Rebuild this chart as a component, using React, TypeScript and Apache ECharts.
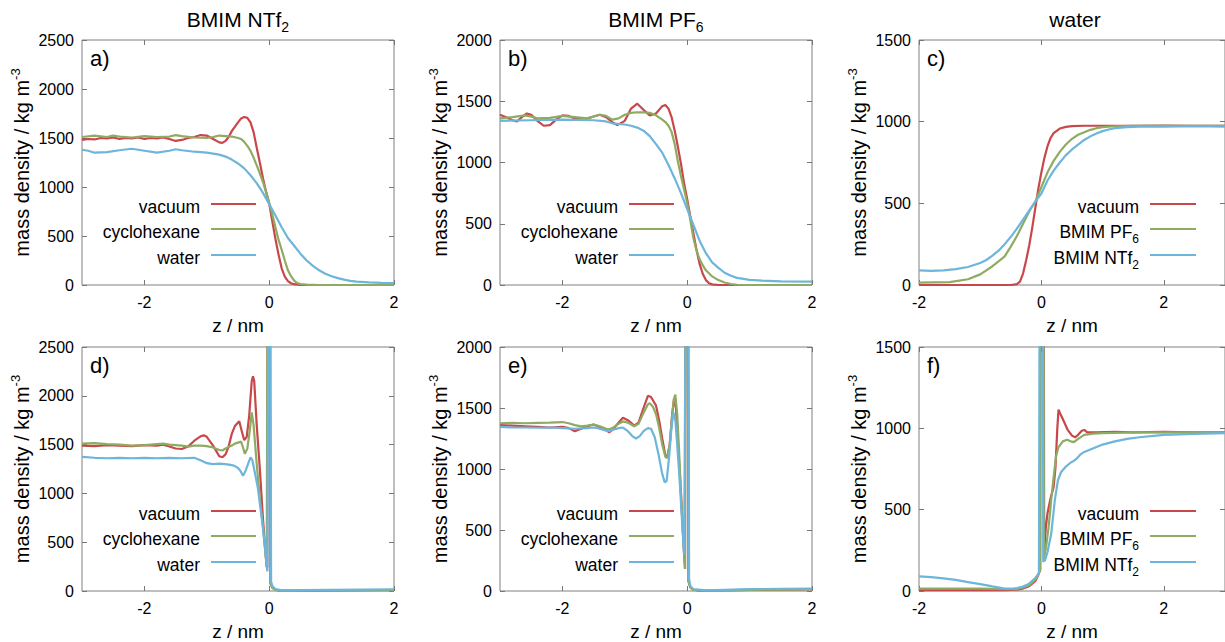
import { useEffect, useRef } from "react";
import * as echarts from "echarts";

const FONT = "Liberation Sans, Arial, Helvetica, sans-serif";

// ---------- labels ----------
const columnTitles = ["BMIM NTf2", "BMIM PF6", "water"];
const panelLabels = ["a)", "b)", "c)", "d)", "e)", "f)"];
const solventNames = ["vacuum", "cyclohexane", "water"];
const waterNames = ["vacuum", "BMIM PF6", "BMIM NTf2"];
const xTicksIL = [-2, 0, 2];
const xTicksW = [-2, 0, 2];
const colors = ["#c8474a", "#8fab62", "#6db5da"];

// ---------- data (z / nm, mass density / kg m^-3) ----------
const aVacuum = [[-3,1480],[-2.9,1490],[-2.8,1485],[-2.7,1500],[-2.6,1495],[-2.5,1505],[-2.4,1490],[-2.3,1500],[-2.2,1495],[-2.1,1505],[-2.0,1490],[-1.9,1500],[-1.8,1495],[-1.7,1505],[-1.6,1490],[-1.5,1470],[-1.4,1480],[-1.3,1500],[-1.2,1510],[-1.1,1530],[-1.0,1525],[-0.9,1490],[-0.8,1455],[-0.75,1450],[-0.7,1470],[-0.65,1510],[-0.6,1570],[-0.5,1660],[-0.45,1700],[-0.4,1715],[-0.35,1705],[-0.3,1660],[-0.25,1560],[-0.2,1400],[-0.15,1250],[-0.1,1090],[-0.05,950],[0,830],[0.05,650],[0.1,470],[0.15,310],[0.2,170],[0.25,85],[0.3,40],[0.35,18],[0.4,8],[0.5,2],[0.6,0],[1,0],[1.5,0],[2,0]];
const aCyclo = [[-3,1510],[-2.8,1525],[-2.6,1510],[-2.5,1525],[-2.4,1515],[-2.2,1505],[-2.0,1520],[-1.8,1510],[-1.6,1515],[-1.5,1530],[-1.4,1520],[-1.2,1505],[-1.0,1500],[-0.9,1510],[-0.8,1525],[-0.7,1520],[-0.6,1515],[-0.5,1500],[-0.45,1490],[-0.4,1460],[-0.35,1420],[-0.3,1370],[-0.25,1300],[-0.2,1220],[-0.15,1140],[-0.1,1050],[-0.05,950],[0,840],[0.05,720],[0.1,590],[0.15,460],[0.2,360],[0.25,250],[0.3,150],[0.35,90],[0.4,45],[0.45,20],[0.5,10],[0.6,3],[0.8,0],[2,0]];
const aWater = [[-3,1380],[-2.9,1370],[-2.8,1350],[-2.6,1355],[-2.4,1375],[-2.2,1390],[-2.0,1370],[-1.8,1350],[-1.6,1370],[-1.5,1385],[-1.4,1375],[-1.2,1360],[-1.0,1350],[-0.9,1340],[-0.8,1330],[-0.7,1310],[-0.6,1280],[-0.5,1240],[-0.4,1190],[-0.3,1120],[-0.2,1040],[-0.1,940],[0,825],[0.1,710],[0.2,590],[0.3,480],[0.4,400],[0.5,320],[0.6,250],[0.7,195],[0.8,150],[0.9,115],[1.0,90],[1.1,70],[1.2,55],[1.3,42],[1.4,35],[1.6,27],[1.8,22],[2.0,20]];

const bVacuum = [[-3,1390],[-2.9,1370],[-2.8,1345],[-2.73,1335],[-2.65,1370],[-2.57,1400],[-2.5,1390],[-2.4,1340],[-2.3,1300],[-2.2,1305],[-2.1,1350],[-2.0,1385],[-1.9,1380],[-1.8,1360],[-1.66,1350],[-1.5,1375],[-1.4,1390],[-1.3,1370],[-1.2,1330],[-1.12,1305],[-1.0,1340],[-0.9,1440],[-0.8,1480],[-0.7,1430],[-0.6,1385],[-0.5,1400],[-0.4,1460],[-0.35,1470],[-0.3,1440],[-0.25,1370],[-0.2,1260],[-0.15,1130],[-0.1,990],[-0.05,830],[0,700],[0.05,560],[0.1,420],[0.15,285],[0.2,170],[0.25,90],[0.3,40],[0.35,15],[0.4,5],[0.5,0],[2,0]];
const bCyclo = [[-3,1360],[-2.8,1370],[-2.6,1385],[-2.5,1375],[-2.4,1360],[-2.2,1365],[-2.0,1380],[-1.8,1370],[-1.6,1360],[-1.4,1390],[-1.3,1380],[-1.2,1350],[-1.1,1360],[-1.0,1390],[-0.9,1405],[-0.8,1410],[-0.7,1410],[-0.6,1405],[-0.5,1385],[-0.4,1350],[-0.35,1330],[-0.3,1300],[-0.25,1250],[-0.2,1150],[-0.15,1010],[-0.1,890],[-0.05,780],[0,670],[0.05,530],[0.1,380],[0.15,280],[0.2,210],[0.25,160],[0.3,120],[0.4,70],[0.5,40],[0.6,20],[0.7,8],[0.8,2],[1.0,0],[2,0]];
const bWater = [[-3,1340],[-2.5,1345],[-2.0,1350],[-1.5,1345],[-1.3,1335],[-1.2,1320],[-1.0,1310],[-0.9,1300],[-0.8,1285],[-0.7,1260],[-0.6,1215],[-0.5,1150],[-0.4,1080],[-0.3,980],[-0.2,870],[-0.1,750],[0,620],[0.1,490],[0.2,360],[0.3,260],[0.4,185],[0.5,140],[0.6,100],[0.7,75],[0.8,58],[1.0,42],[1.2,35],[1.5,30],[2.0,27]];

const cVacuum = [[-2,0],[-1,0],[-0.5,0],[-0.4,5],[-0.35,20],[-0.3,70],[-0.25,150],[-0.2,240],[-0.15,350],[-0.1,470],[-0.05,590],[0,690],[0.05,780],[0.1,850],[0.15,900],[0.2,930],[0.3,958],[0.4,968],[0.5,973],[0.7,975],[1,975],[1.5,975],[2,976],[2.5,975],[3,975]];
const cPF6 = [[-2,15],[-1.5,18],[-1.2,35],[-1.0,65],[-0.9,90],[-0.8,115],[-0.7,145],[-0.6,175],[-0.5,235],[-0.4,300],[-0.3,375],[-0.2,450],[-0.1,510],[0,600],[0.1,690],[0.2,760],[0.3,815],[0.4,860],[0.5,895],[0.6,920],[0.7,935],[0.8,950],[0.9,960],[1.0,966],[1.2,972],[1.5,975],[3,975]];
const cNTf2 = [[-2,90],[-1.8,87],[-1.6,90],[-1.4,97],[-1.2,110],[-1.0,135],[-0.9,153],[-0.8,180],[-0.7,210],[-0.6,250],[-0.5,295],[-0.4,345],[-0.3,400],[-0.2,455],[-0.1,510],[0,560],[0.1,640],[0.2,700],[0.3,750],[0.4,795],[0.5,830],[0.6,860],[0.7,888],[0.8,910],[0.9,928],[1.0,942],[1.1,952],[1.2,960],[1.4,967],[1.6,970],[2,970],[2.5,972],[3,970]];

const dVacuum = [[-3,1490],[-2.8,1485],[-2.6,1495],[-2.4,1490],[-2.2,1485],[-2.0,1495],[-1.8,1490],[-1.7,1500],[-1.6,1480],[-1.5,1460],[-1.4,1455],[-1.3,1480],[-1.2,1540],[-1.1,1585],[-1.05,1595],[-1.0,1580],[-0.9,1490],[-0.8,1380],[-0.75,1370],[-0.7,1400],[-0.65,1480],[-0.6,1610],[-0.55,1690],[-0.48,1740],[-0.44,1640],[-0.4,1545],[-0.36,1580],[-0.32,1800],[-0.28,2150],[-0.26,2200],[-0.24,2150],[-0.2,1700],[-0.15,1250],[-0.1,740],[-0.06,400],[-0.04,250],[-0.03,240],[-0.025,3500],[0.005,3500],[0.02,80],[0.05,40],[0.1,15],[0.15,5],[0.2,0],[0.5,2],[1,5],[1.5,8],[2,10]];
const dCyclo = [[-3,1510],[-2.8,1515],[-2.6,1505],[-2.4,1500],[-2.2,1490],[-2.0,1495],[-1.8,1505],[-1.7,1510],[-1.6,1500],[-1.4,1490],[-1.3,1480],[-1.2,1490],[-1.1,1490],[-1.0,1485],[-0.9,1470],[-0.8,1445],[-0.75,1440],[-0.7,1460],[-0.6,1490],[-0.55,1510],[-0.5,1520],[-0.45,1530],[-0.42,1470],[-0.39,1405],[-0.35,1460],[-0.31,1650],[-0.28,1830],[-0.25,1700],[-0.2,1300],[-0.15,950],[-0.1,650],[-0.06,380],[-0.04,250],[-0.025,3500],[0.005,3500],[0.02,70],[0.05,30],[0.1,10],[0.2,0],[1,5],[2,8]];
const dWater = [[-3,1375],[-2.8,1365],[-2.6,1360],[-2.4,1365],[-2.2,1360],[-2.0,1365],[-1.8,1360],[-1.6,1365],[-1.4,1360],[-1.2,1365],[-1.1,1340],[-1.0,1310],[-0.9,1300],[-0.8,1305],[-0.7,1300],[-0.6,1290],[-0.55,1280],[-0.5,1260],[-0.46,1230],[-0.42,1180],[-0.38,1230],[-0.34,1300],[-0.3,1370],[-0.27,1340],[-0.22,1180],[-0.18,1050],[-0.14,850],[-0.1,650],[-0.06,400],[-0.03,200],[-0.01,3500],[0.02,3500],[0.03,100],[0.05,50],[0.1,20],[0.2,8],[0.5,8],[1,12],[1.5,15],[2,18]];

const eVacuum = [[-3,1360],[-2.8,1355],[-2.6,1350],[-2.4,1345],[-2.2,1340],[-2.0,1345],[-1.9,1335],[-1.8,1310],[-1.7,1330],[-1.6,1350],[-1.5,1365],[-1.4,1345],[-1.3,1320],[-1.25,1300],[-1.2,1320],[-1.1,1380],[-1.03,1420],[-0.95,1400],[-0.85,1355],[-0.78,1380],[-0.7,1500],[-0.63,1600],[-0.58,1590],[-0.5,1520],[-0.45,1400],[-0.4,1250],[-0.35,1110],[-0.32,1100],[-0.28,1200],[-0.24,1450],[-0.21,1580],[-0.18,1500],[-0.14,1150],[-0.1,800],[-0.06,400],[-0.035,180],[-0.025,3500],[0.005,3500],[0.02,80],[0.05,30],[0.1,10],[0.2,3],[0.5,5],[1,10],[1.5,12],[2,15]];
const eCyclo = [[-3,1375],[-2.8,1378],[-2.6,1375],[-2.4,1378],[-2.2,1380],[-2.0,1385],[-1.9,1375],[-1.8,1360],[-1.7,1350],[-1.6,1355],[-1.5,1365],[-1.4,1350],[-1.3,1330],[-1.25,1325],[-1.2,1335],[-1.1,1370],[-1.03,1390],[-0.95,1380],[-0.85,1350],[-0.78,1370],[-0.7,1460],[-0.63,1530],[-0.6,1540],[-0.55,1510],[-0.5,1450],[-0.45,1340],[-0.4,1200],[-0.35,1100],[-0.32,1090],[-0.28,1200],[-0.24,1450],[-0.21,1580],[-0.19,1610],[-0.16,1450],[-0.13,1150],[-0.1,800],[-0.06,400],[-0.035,180],[-0.025,3500],[0.005,3500],[0.02,80],[0.05,30],[0.1,10],[0.2,3],[0.5,5],[1,10],[1.5,12],[2,15]];
const eWater = [[-3,1345],[-2.8,1340],[-2.6,1340],[-2.4,1338],[-2.2,1340],[-2.0,1335],[-1.8,1330],[-1.6,1335],[-1.5,1340],[-1.4,1330],[-1.3,1315],[-1.25,1310],[-1.2,1320],[-1.1,1335],[-1.03,1340],[-0.95,1310],[-0.88,1270],[-0.82,1250],[-0.76,1270],[-0.7,1310],[-0.63,1335],[-0.58,1330],[-0.52,1260],[-0.46,1120],[-0.4,960],[-0.36,890],[-0.33,900],[-0.29,1100],[-0.25,1350],[-0.22,1460],[-0.19,1400],[-0.16,1200],[-0.12,900],[-0.08,550],[-0.05,300],[-0.01,3500],[0.02,3500],[0.03,100],[0.05,40],[0.1,15],[0.3,5],[0.6,10],[1,15],[1.5,18],[2,20]];

const fVacuum = [[-2,5],[-1.5,5],[-1,5],[-0.6,5],[-0.4,8],[-0.3,15],[-0.2,30],[-0.1,60],[-0.05,100],[-0.02,130],[-0.01,3500],[0.035,3500],[0.045,230],[0.07,380],[0.1,480],[0.15,570],[0.2,640],[0.23,760],[0.26,1000],[0.28,1115],[0.32,1080],[0.37,1040],[0.43,990],[0.5,955],[0.55,945],[0.6,960],[0.66,985],[0.7,990],[0.75,975],[0.9,975],[1.2,978],[1.5,975],[2,978],[2.5,975],[3,975]];
const fPF6 = [[-2,15],[-1.5,15],[-1,15],[-0.6,12],[-0.4,12],[-0.3,20],[-0.2,35],[-0.1,70],[-0.05,100],[-0.02,130],[-0.01,3500],[0.03,3500],[0.04,190],[0.08,280],[0.12,400],[0.16,560],[0.2,700],[0.24,830],[0.28,885],[0.35,920],[0.42,930],[0.48,920],[0.53,915],[0.6,935],[0.7,960],[0.85,968],[1,970],[1.5,975],[2,975],[3,975]];
const fNTf2 = [[-2,90],[-1.8,85],[-1.6,78],[-1.4,68],[-1.2,55],[-1.0,42],[-0.8,28],[-0.6,15],[-0.5,14],[-0.4,18],[-0.3,28],[-0.2,45],[-0.1,80],[-0.04,110],[-0.02,3500],[0.02,3500],[0.03,180],[0.06,190],[0.1,240],[0.16,350],[0.22,560],[0.27,680],[0.32,730],[0.4,765],[0.48,790],[0.53,800],[0.58,815],[0.64,840],[0.7,855],[0.8,870],[0.9,885],[1.0,900],[1.2,920],[1.4,935],[1.6,945],[2.0,960],[2.5,966],[3,970]];

// ---------- layout ----------
const COL_LEFT = [82, 500, 919];
const PLOT_W = 312;
const ROW_TOP = [40, 347];
const ROW_H = [245, 246];
const LEG_TEXT_RIGHT = [200, 618, 1139];
const LEG_LINE = [[211, 256], [629, 674], [1150, 1196]];
const LEG_ROW_OFFSET = [164, 189, 215];

const panels = [
  { label: panelLabels[0], col: 0, row: 0, xMin: -3, xMax: 2, yMax: 2500, xTicks: xTicksIL, names: solventNames, data: [aVacuum, aCyclo, aWater] },
  { label: panelLabels[1], col: 1, row: 0, xMin: -3, xMax: 2, yMax: 2000, xTicks: xTicksIL, names: solventNames, data: [bVacuum, bCyclo, bWater] },
  { label: panelLabels[2], col: 2, row: 0, xMin: -2, xMax: 3, yMax: 1500, xTicks: xTicksW, names: waterNames, data: [cVacuum, cPF6, cNTf2] },
  { label: panelLabels[3], col: 0, row: 1, xMin: -3, xMax: 2, yMax: 2500, xTicks: xTicksIL, names: solventNames, data: [dVacuum, dCyclo, dWater] },
  { label: panelLabels[4], col: 1, row: 1, xMin: -3, xMax: 2, yMax: 2000, xTicks: xTicksIL, names: solventNames, data: [eVacuum, eCyclo, eWater] },
  { label: panelLabels[5], col: 2, row: 1, xMin: -2, xMax: 3, yMax: 1500, xTicks: xTicksW, names: waterNames, data: [fVacuum, fPF6, fNTf2] },
];

function richName(name: string): string {
  const m = name.match(/^(.*[A-Za-z])(\d)$/);
  if (m) return `{m|${m[1]}}{s|${m[2]}}`;
  return `{m|${name}}`;
}

function richStyles(size: number, subSize: number) {
  return {
    m: { fontSize: size, fontFamily: FONT, fill: "#000", color: "#000" },
    s: { fontSize: subSize, fontFamily: FONT, fill: "#000", color: "#000", verticalAlign: "bottom", padding: [0, 0, -4, 0] },
  };
}

const TICK_COLOR = "#777";

export default function App() {
  const ref = useRef<HTMLDivElement>(null);
  useEffect(() => {
    if (!ref.current) return;
    const chart = echarts.init(ref.current, undefined, { renderer: "svg" });

    const grids = panels.map((p) => ({
      left: COL_LEFT[p.col],
      top: ROW_TOP[p.row],
      width: PLOT_W,
      height: ROW_H[p.row],
      show: true,
      borderColor: "#808080",
      borderWidth: 1,
      backgroundColor: "transparent",
    }));

    const tickStyle = { inside: true, length: 5, lineStyle: { color: TICK_COLOR, width: 1 } };
    const noLine = { show: false, onZero: false };

    const xAxes: any[] = [];
    const yAxes: any[] = [];
    panels.forEach((p, i) => {
      xAxes.push({
        type: "value", gridIndex: i, min: p.xMin, max: p.xMax, position: "bottom",
        splitLine: { show: false }, axisLine: noLine,
        axisTick: { ...tickStyle, customValues: p.xTicks },
        axisLabel: { customValues: p.xTicks, fontSize: 16, color: "#000", margin: 9, fontFamily: FONT, formatter: (v: number) => String(v) },
        name: "z / nm", nameLocation: "middle", nameGap: 31,
        nameTextStyle: { fontSize: 19, color: "#000", fontFamily: FONT },
      });
      xAxes.push({
        type: "value", gridIndex: i, min: p.xMin, max: p.xMax, position: "top",
        splitLine: { show: false }, axisLine: noLine,
        axisTick: { ...tickStyle, customValues: p.xTicks },
        axisLabel: { show: false },
      });
      yAxes.push({
        type: "value", gridIndex: i, min: 0, max: p.yMax, interval: 500, position: "left",
        splitLine: { show: false }, axisLine: noLine,
        axisTick: tickStyle,
        axisLabel: { fontSize: 16, color: "#000", margin: 8, fontFamily: FONT, formatter: (v: number) => String(v) },
        name: "{t|mass density / kg m}{u|-3}", nameLocation: "middle", nameGap: 47, nameRotate: 90,
        nameTextStyle: {
          fontSize: 20, color: "#000", fontFamily: FONT,
          rich: {
            t: { fontSize: 20, color: "#000", fontFamily: FONT, lineHeight: 26 },
            u: { fontSize: 13, color: "#000", fontFamily: FONT, verticalAlign: "top", lineHeight: 26 },
          },
        },
      });
      yAxes.push({
        type: "value", gridIndex: i, min: 0, max: p.yMax, interval: 500, position: "right",
        splitLine: { show: false }, axisLine: noLine,
        axisTick: tickStyle, axisLabel: { show: false },
      });
    });

    const series: any[] = [];
    panels.forEach((p, i) => {
      p.data.forEach((d, j) => {
        series.push({
          type: "line", name: p.names[j], xAxisIndex: i * 2, yAxisIndex: i * 2,
          data: d, symbol: "none", showSymbol: false, clip: true, silent: true,
          lineStyle: { color: colors[j], width: 2.2 }, itemStyle: { color: colors[j] },
          z: 2 + j,
        });
      });
    });

    const graphics: any[] = [];
    columnTitles.forEach((t, c) => {
      graphics.push({
        type: "text", x: COL_LEFT[c] + PLOT_W / 2, y: 19,
        style: {
          text: richName(t), rich: richStyles(21, 14), fontSize: 21, fontFamily: FONT, fill: "#000",
          align: "center", verticalAlign: "middle", textAlign: "center", textVerticalAlign: "middle",
        },
      });
    });
    panels.forEach((p) => {
      const top = ROW_TOP[p.row];
      graphics.push({
        type: "text", x: COL_LEFT[p.col] + 8, y: top + 18,
        style: { text: p.label, fontSize: 22, fontFamily: FONT, fill: "#000", align: "left", verticalAlign: "middle", textAlign: "left", textVerticalAlign: "middle" },
      });
      p.names.forEach((n, j) => {
        const ly = top + LEG_ROW_OFFSET[j];
        graphics.push({
          type: "text", x: LEG_TEXT_RIGHT[p.col], y: ly + 3,
          style: {
            text: richName(n), rich: richStyles(17.5, 12), fontSize: 17.5, fontFamily: FONT, fill: "#000",
            align: "right", verticalAlign: "middle", textAlign: "right", textVerticalAlign: "middle",
          },
        });
        graphics.push({
          type: "line",
          shape: { x1: LEG_LINE[p.col][0], y1: ly, x2: LEG_LINE[p.col][1], y2: ly },
          style: { stroke: colors[j], lineWidth: 2.2 },
        });
      });
    });

    chart.setOption({
      animation: false,
      textStyle: { fontFamily: FONT },
      grid: grids,
      xAxis: xAxes,
      yAxis: yAxes,
      series,
      graphic: graphics,
    });
    return () => chart.dispose();
  }, []);

  return (
    <div
      ref={ref}
      style={{ position: "absolute", left: 0, top: 0, width: 1225, height: 642, background: "#fff" }}
    />
  );
}
